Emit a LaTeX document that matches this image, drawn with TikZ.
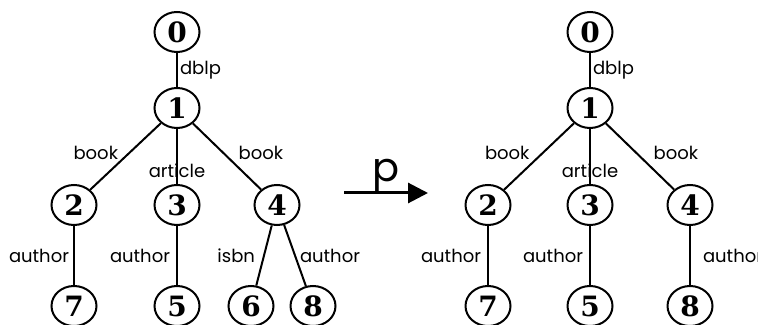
\documentclass[tikz,border=0pt]{standalone}
\usepackage{fontspec}
\newfontfamily\lblfont{Poppins}
\newfontfamily\numfont{DejaVu Serif}
\usetikzlibrary{arrows.meta, positioning, shapes.geometric}

\begin{document}
\begin{tikzpicture}[
    x=0.5pt, y=-0.5pt,
    vert/.style={ellipse, draw, line width=1pt, minimum width=22.5pt, minimum height=20pt, inner sep=0pt, font=\numfont\bfseries\fontsize{14}{14}\selectfont},
    edge_lbl/.style={font=\lblfont\fontsize{9}{10}\selectfont, inner sep=1pt},
    p_lbl/.style={font=\lblfont\fontsize{20}{20}\selectfont, inner sep=0pt},
    tedge/.style={line width=1pt}
]
    \useasboundingbox (0,0) rectangle (758,325);

    % input tree
    \node[vert] (a0) at (177,32) {0};
    \node[vert] (a1) at (177,108) {1};
    \node[vert] (a2) at (74,205) {2};
    \node[vert] (a3) at (177,205) {3};
    \node[vert] (a4) at (277,205) {4};
    \node[vert] (a7) at (74,306) {7};
    \node[vert] (a5) at (177,306) {5};
    \node[vert] (a6) at (251,306) {6};
    \node[vert] (a8) at (313,306) {8};

    \draw[tedge] (a0) -- node[edge_lbl, right] {dblp} (a1);
    \draw[tedge] (a1) -- node[edge_lbl, pos=0.45, left=4pt] {book} (a2);
    \draw[tedge] (a1) -- node[edge_lbl, pos=0.75] {article} (a3);
    \draw[tedge] (a1) -- node[edge_lbl, pos=0.45, right=6pt] {book} (a4);
    \draw[tedge] (a2) -- node[edge_lbl, left=1pt] {author} (a7);
    \draw[tedge] (a3) -- node[edge_lbl, left=2pt] {author} (a5);
    \draw[tedge] (a4) -- node[edge_lbl, left=3pt] {isbn} (a6);
    \draw[tedge] (a4) -- node[edge_lbl, right=1pt] {author} (a8);

    % transformation p
    \coordinate (pstart) at (344,193);
    \coordinate (pend) at (428,193);
    \draw[line width=1.5pt, -{Triangle[length=10pt, width=10pt]}] (pstart) -- node[p_lbl, above] {p} (pend);

    % result tree
    \node[vert] (b0) at (590,32) {0};
    \node[vert] (b1) at (590,108) {1};
    \node[vert] (b2) at (488,205) {2};
    \node[vert] (b3) at (590,205) {3};
    \node[vert] (b4) at (690,205) {4};
    \node[vert] (b7) at (488,306) {7};
    \node[vert] (b5) at (590,306) {5};
    \node[vert] (b8) at (690,306) {8};

    \draw[tedge] (b0) -- node[edge_lbl, right] {dblp} (b1);
    \draw[tedge] (b1) -- node[edge_lbl, pos=0.45, left=5pt] {book} (b2);
    \draw[tedge] (b1) -- node[edge_lbl, pos=0.75] {article} (b3);
    \draw[tedge] (b1) -- node[edge_lbl, pos=0.45, right=7pt] {book} (b4);
    \draw[tedge] (b2) -- node[edge_lbl, left=2pt] {author} (b7);
    \draw[tedge] (b3) -- node[edge_lbl, left=2pt] {author} (b5);
    \draw[tedge] (b4) -- node[edge_lbl, right=5pt] {author} (b8);
\end{tikzpicture}
\end{document}
